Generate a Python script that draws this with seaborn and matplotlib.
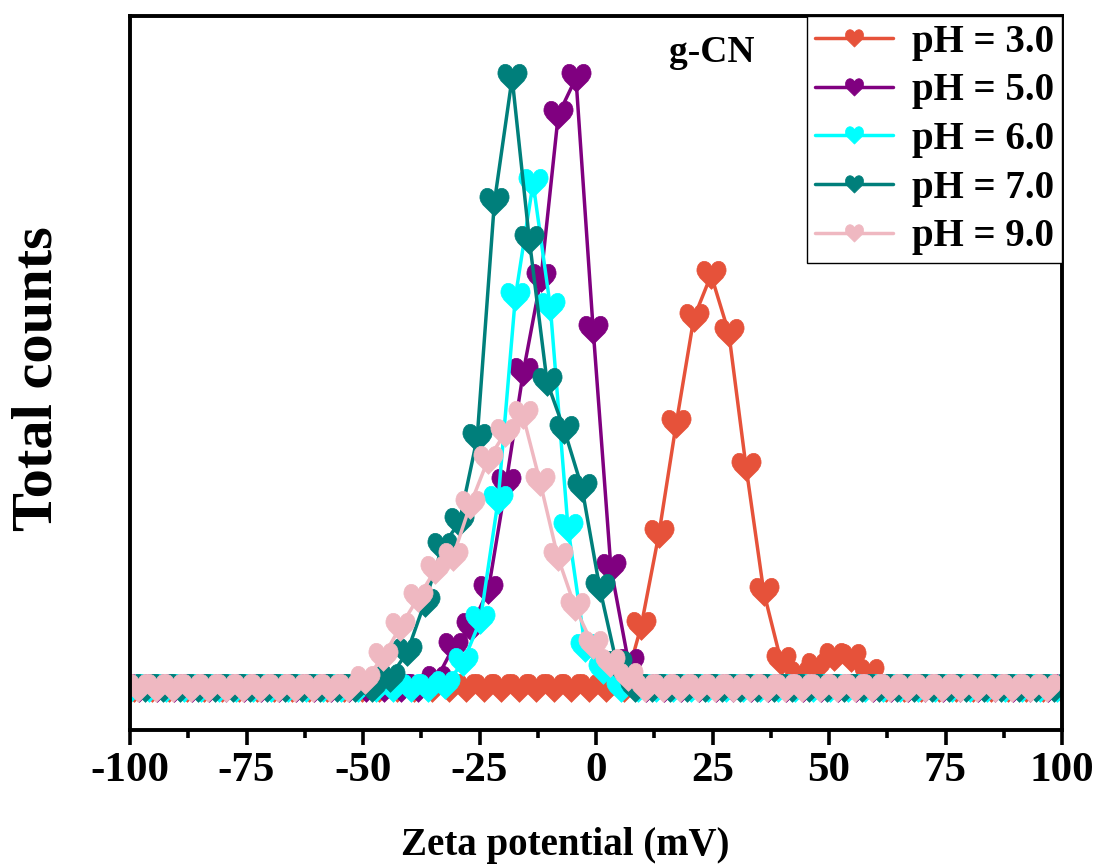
import numpy as np
import pandas as pd
import matplotlib
matplotlib.use("Agg")
import matplotlib.pyplot as plt
from matplotlib.path import Path
from matplotlib.ticker import MultipleLocator, NullLocator
import seaborn as sns

# ---------------- data ----------------
labels = ["pH = 3.0", "pH = 5.0", "pH = 6.0", "pH = 7.0", "pH = 9.0"]
colors = ["#E6523A", "#800080", "#00FFFF", "#007F7B", "#EFB8C1"]

x_ph3 = [-99.1, -95.3, -91.6, -87.8, -84.1, -80.3, -76.6, -72.8, -69.1, -65.3,
         -61.6, -57.8, -54.1, -50.3, -46.6, -42.8, -39.1, -35.3, -31.6, -27.8,
         -24.1, -20.3, -16.6, -12.8, -9.1, -5.3, -1.6, 2.2, 6.0, 9.7, 13.5, 17.2,
         21.0, 24.7, 28.5, 32.2, 36.0, 39.7, 43.5, 47.2, 51.0, 54.7, 58.5, 62.2,
         66.0, 69.7, 73.5, 77.2, 81.0, 84.7, 88.5, 92.2, 96.0, 99.7]
y_ph3 = [0] * 29 + [62, 154, 264, 370, 413, 355, 221, 96, 27, 13, 21, 31, 30, 15] + [0] * 11

x_ph5 = [-98.1, -94.3, -90.6, -86.8, -83.1, -79.3, -75.6, -71.8, -68.1, -64.3,
         -60.6, -56.8, -53.1, -49.3, -45.6, -41.8, -38.1, -34.3, -30.6, -26.8,
         -23.1, -19.3, -15.6, -11.8, -8.1, -4.3, -0.6, 3.2, 7.0, 10.7, 14.5, 18.2,
         22.0, 25.7, 29.5, 33.2, 37.0, 40.7, 44.5, 48.2, 52.0, 55.7, 59.5, 63.2,
         67.0, 70.7, 74.5, 78.2, 82.0, 85.7, 89.5, 93.2, 97.0]
y_ph5 = [0] * 17 + [8, 41, 61, 98, 205, 316, 410, 573, 610, 358, 120, 25] + [0] * 24

x_ph6 = [-99.8, -96.0, -92.3, -88.5, -84.8, -81.0, -77.3, -73.5, -69.8, -66.0,
         -62.3, -58.5, -54.8, -51.0, -47.3, -43.5, -39.8, -36.0, -32.3, -28.5,
         -24.8, -21.0, -17.3, -13.5, -9.8, -6.0, -2.3, 1.5, 5.3, 9.0, 12.8, 16.5,
         20.3, 24.0, 27.8, 31.5, 35.3, 39.0, 42.8, 46.5, 50.3, 54.0, 57.8, 61.5,
         65.3, 69.0, 72.8, 76.5, 80.3, 84.0, 87.8, 91.5, 95.3, 99.0]
y_ph6 = [0] * 18 + [3, 26, 68, 188, 391, 505, 381, 160, 40, 18] + [0] * 26

x_ph7 = [-96.8, -93.0, -89.3, -85.5, -81.8, -78.0, -74.3, -70.5, -66.8, -63.0,
         -59.3, -55.5, -51.8, -48.0, -44.3, -40.5, -36.8, -33.0, -29.3, -25.5,
         -21.8, -18.0, -14.3, -10.5, -6.8, -3.0, 0.8, 4.5, 8.3, 12.0, 15.8, 19.5,
         23.3, 27.0, 30.8, 34.5, 38.3, 42.0, 45.8, 49.5, 53.3, 57.0, 60.8, 64.5,
         68.3, 72.0, 75.8, 79.5, 83.3, 87.0, 90.8, 94.5, 98.3]
y_ph7 = [0] * 14 + [10, 36, 85, 141, 166, 250, 486, 610, 448, 306, 258, 200, 100, 23] + [0] * 25

x_ph9 = [-98.2, -94.5, -90.7, -87.0, -83.2, -79.5, -75.7, -72.0, -68.2, -64.5,
         -60.7, -57.0, -53.2, -49.5, -45.7, -42.0, -38.2, -34.5, -30.7, -27.0,
         -23.2, -19.5, -15.7, -12.0, -8.2, -4.5, -0.7, 3.1, 6.8, 10.6, 14.3, 18.1,
         21.8, 25.6, 29.3, 33.1, 36.8, 40.6, 44.3, 48.1, 51.8, 55.6, 59.3, 63.1,
         66.8, 70.6, 74.3, 78.1, 81.8, 85.6, 89.3, 93.1, 96.8]
y_ph9 = [0] * 13 + [8, 31, 61, 90, 118, 131, 183, 228, 255, 273, 206, 131, 81, 43, 25, 11] + [0] * 24

x_series = [x_ph3, x_ph5, x_ph6, x_ph7, x_ph9]
y_series = [y_ph3, y_ph5, y_ph6, y_ph7, y_ph9]

xticks = [-100, -75, -50, -25, 0, 25, 50, 75, 100]
xtick_labels = ["-100", "-75", "-50", "-25", "0", "25", "50", "75", "100"]

# ---------------- heart marker ----------------
hv = [(0.0, -0.95),
      (-0.35, -0.55), (-1.0, -0.15), (-1.0, 0.35),
      (-1.0, 0.72), (-0.78, 0.97), (-0.5, 0.97),
      (-0.22, 0.97), (0.0, 0.75), (0.0, 0.55),
      (0.0, 0.75), (0.22, 0.97), (0.5, 0.97),
      (0.78, 0.97), (1.0, 0.72), (1.0, 0.35),
      (1.0, -0.15), (0.35, -0.55), (0.0, -0.95),
      (0.0, -0.95)]
hc = [Path.MOVETO] + [Path.CURVE4] * 18 + [Path.CLOSEPOLY]
heart = Path(hv, hc)

# ---------------- style ----------------
sns.set_style("white")
plt.rcParams["font.family"] = ["Liberation Serif", "DejaVu Serif"]
plt.rcParams["font.weight"] = "bold"
plt.rcParams["text.color"] = "black"
plt.rcParams["xtick.color"] = "black"
plt.rcParams["xtick.labelcolor"] = "black"
plt.rcParams["axes.labelcolor"] = "black"

fig = plt.figure(figsize=(10.99, 8.66), dpi=100)
ax = fig.add_axes([130 / 1099, 1 - 730 / 866, 932 / 1099, 714 / 866])

for xs, ys, lab, col in zip(x_series, y_series, labels, colors):
    df = pd.DataFrame({"zeta": xs, "counts": ys})
    sns.lineplot(data=df, x="zeta", y="counts", ax=ax, color=col, label=lab,
                 marker=heart, markersize=21, markeredgecolor=col,
                 markeredgewidth=0.5, linewidth=2.5, legend=False,
                 errorbar=None)

ax.set_xlim(-100, 100)
ax.set_ylim(-42, 672)
ax.set_xticks(xticks)
ax.set_xticklabels(xtick_labels)
ax.xaxis.set_minor_locator(MultipleLocator(12.5))
ax.yaxis.set_major_locator(NullLocator())
ax.yaxis.set_minor_locator(NullLocator())
ax.tick_params(axis="x", which="major", direction="out", length=11, width=2.6,
               labelsize=31, pad=5, bottom=True, top=False, color="black",
               labelcolor="black")
ax.tick_params(axis="x", which="minor", direction="out", length=6, width=2.6,
               bottom=True, top=False, color="black")
for lab in ax.get_xticklabels():
    lab.set_fontweight("bold")
for sp in ax.spines.values():
    sp.set_linewidth(2.8)
    sp.set_color("black")
ax.set_xlabel("")
ax.set_ylabel("")

fig.text(565.5 / 1099, 1 - 855 / 866, "Zeta potential (mV)", fontsize=28,
         fontweight="bold", ha="center", va="baseline", color="black")
fig.text(12 / 1099, 1 - 379 / 866, "Total counts", fontsize=42,
         fontweight="bold", rotation=90, ha="left", va="center", color="black")
ax.text((712 - 130) / 932, (730 - 52) / 714, "g-CN", transform=ax.transAxes,
        fontsize=27, fontweight="bold", ha="center", va="center", color="black")

leg = ax.legend(loc="upper right", bbox_to_anchor=(1.0, 1.0), borderaxespad=0,
                frameon=True, fancybox=False, framealpha=1, edgecolor="black",
                prop={"size": 28, "weight": "bold"}, markerscale=0.62,
                handlelength=2.0, handletextpad=0.5, labelspacing=0.3,
                borderpad=0.2)
leg.get_frame().set_linewidth(1.0)
for t in leg.get_texts():
    t.set_color("black")

fig.savefig("out.png", dpi=100)
